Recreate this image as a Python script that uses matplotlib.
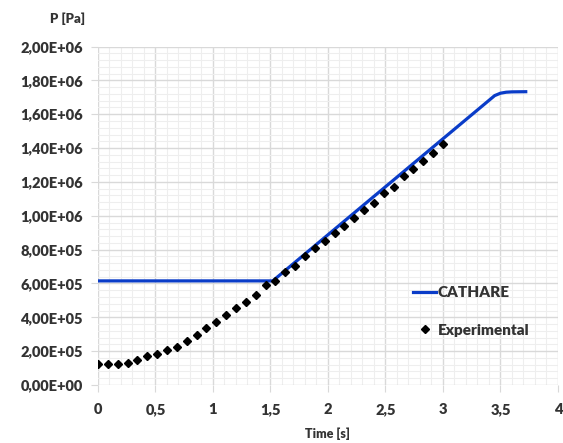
"""
Pressure vs time: CATHARE calculation against experimental data.
"""

import numpy as np
import matplotlib.pyplot as plt
from matplotlib.ticker import MultipleLocator, FuncFormatter

# CATHARE calculation (breakpoints of the curve)
t_cathare = [0.0, 1.52, 3.45, 3.50, 3.55, 3.60, 3.72]
p_cathare = [6.15e5, 6.15e5, 1.71e6, 1.724e6, 1.730e6, 1.732e6, 1.733e6]

# experimental points
t_exp = np.linspace(0, 3, 36)
p_exp = [1.24e5, 1.24e5, 1.24e5, 1.28e5, 1.49e5, 1.73e5, 1.81e5, 2.08e5,
         2.22e5, 2.61e5, 2.96e5, 3.34e5, 3.73e5, 4.13e5, 4.52e5, 4.91e5,
         5.32e5, 5.89e5, 6.15e5, 6.70e5, 7.03e5, 7.62e5, 8.08e5, 8.51e5,
         8.96e5, 9.39e5, 9.84e5, 1.032e6, 1.077e6, 1.136e6, 1.169e6,
         1.234e6, 1.279e6, 1.326e6, 1.372e6, 1.421e6]

plt.rcParams['font.family'] = ['Lato', 'DejaVu Sans']
plt.rcParams['font.weight'] = 'heavy'
txt = '#333333'

fig = plt.figure(figsize=(5.63, 4.43), dpi=100)
ax = fig.add_axes([0.174, 0.131, 0.817, 0.764])

ax.plot(t_cathare, p_cathare, color='#0a3cc8', lw=2.3, label='CATHARE', zorder=3)
ax.plot(t_exp, p_exp, ls='none', marker='D', ms=4.5, color='black',
        label='Experimental', zorder=4)

ax.set_xlim(0, 4)
ax.set_ylim(0, 2e6)
ax.xaxis.set_major_locator(MultipleLocator(0.5))
ax.xaxis.set_minor_locator(MultipleLocator(0.1))
ax.yaxis.set_major_locator(MultipleLocator(2e5))
ax.yaxis.set_minor_locator(MultipleLocator(4e4))

ax.xaxis.set_major_formatter(FuncFormatter(lambda v, p: ('%g' % v).replace('.', ',')))
ax.yaxis.set_major_formatter(FuncFormatter(
    lambda v, p: ('%.2E' % v).replace('.', ',')))

ax.grid(which='major', color='#d9d9d9', lw=1.0)
ax.grid(which='minor', color='#eeeeee', lw=0.8)
ax.set_axisbelow(True)
for s in ax.spines.values():
    s.set_visible(False)

ax.tick_params(which='major', length=5, color='#d9d9d9', labelsize=10.5,
               labelcolor=txt, pad=6)
ax.tick_params(which='minor', length=0)
ax.tick_params(axis='x', pad=8)

ax.set_xlabel('Time [s]', fontsize=9, color=txt, fontweight='heavy', labelpad=8)
fig.text(0.089, 0.957, 'P [Pa]', fontsize=9.5, color=txt, fontweight='heavy',
         ha='left', va='center')

leg = ax.legend(loc='upper left', bbox_to_anchor=(0.672, 0.31), frameon=False,
                fontsize=11, labelspacing=1.6, handlelength=1.5,
                handletextpad=0.1, borderaxespad=0)
for t in leg.get_texts():
    t.set_color(txt)

fig.savefig('out.png', dpi=100)
